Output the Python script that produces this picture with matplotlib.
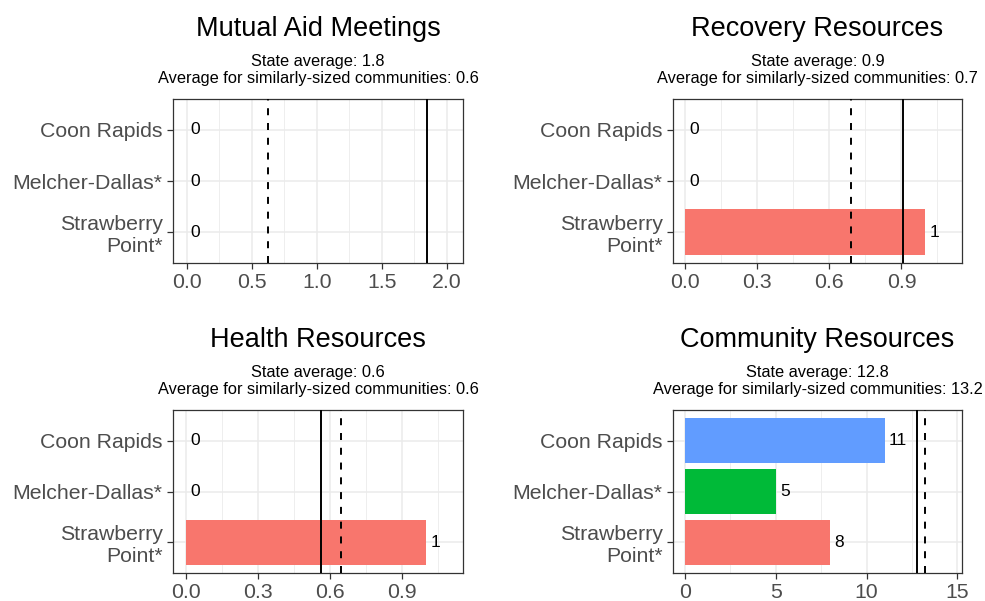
import matplotlib
matplotlib.use("Agg")
import matplotlib.pyplot as plt
from matplotlib.ticker import MultipleLocator

plt.rcParams['font.family'] = ['Liberation Sans', 'DejaVu Sans']

# Datos
communities = ['Strawberry\nPoint*', 'Melcher-Dallas*', 'Coon Rapids']
bar_colors = ['#F8766D', '#00BA38', '#619CFF']

titles = ['Mutual Aid Meetings', 'Recovery Resources', 'Health Resources', 'Community Resources']
values = [
    [0, 0, 0],
    [1, 0, 0],
    [1, 0, 0],
    [8, 5, 11],
]
state_avg = [1.846, 0.907, 0.563, 12.78]
similar_avg = [0.628, 0.688, 0.644, 13.24]
state_label = ['1.8', '0.9', '0.6', '12.8']
similar_label = ['0.6', '0.7', '0.6', '13.2']
x_limits = [(-0.105, 2.125), (-0.051, 1.152), (-0.054, 1.154), (-0.66, 15.26)]
x_major = [0.5, 0.3, 0.3, 5]

# Posiciones de los paneles en pixeles (left, top, right, bottom)
W, H = 985, 601
panels_px = [
    (173, 99, 463, 263),
    (673, 99, 962, 263),
    (173, 410, 463, 573),
    (673, 410, 962, 573),
]

fig = plt.figure(figsize=(W / 100, H / 100), dpi=100)
px2pt = 72 / 100

for i in range(4):
    l, t, r, b = panels_px[i]
    ax = fig.add_axes([l / W, 1 - b / H, (r - l) / W, (b - t) / H])
    ypos = [1, 2, 3]

    ax.barh(ypos, values[i], height=0.9, color=bar_colors, zorder=2)
    for y, v in zip(ypos, values[i]):
        ax.annotate(str(v), xy=(v, y), xytext=(3, 0), textcoords='offset points',
                    ha='left', va='center', fontsize=12.5, color='black', zorder=4)

    ax.axvline(state_avg[i], color='black', lw=1.4, zorder=3)
    ax.axvline(similar_avg[i], color='black', lw=1.4, linestyle=(0, (3.6, 4.0)), zorder=3)

    ax.set_xlim(*x_limits[i])
    ax.set_ylim(0.4, 3.6)
    ax.xaxis.set_major_locator(MultipleLocator(x_major[i]))
    ax.xaxis.set_minor_locator(MultipleLocator(x_major[i] / 2))
    if x_major[i] < 1:
        ax.xaxis.set_major_formatter(plt.FuncFormatter(lambda v, p: f'{v:.1f}'))
    ax.set_yticks(ypos)
    ax.set_yticklabels(communities)

    ax.grid(which='major', color='#EBEBEB', lw=1.1, zorder=0)
    ax.grid(which='minor', axis='x', color='#EBEBEB', lw=0.6, zorder=0)
    ax.set_axisbelow(True)
    ax.tick_params(axis='both', which='major', length=4, width=0.9, color='#333333',
                   labelcolor='#4D4D4D', labelsize=15.3, pad=3.5)
    ax.tick_params(axis='both', which='minor', length=0)
    for s in ax.spines.values():
        s.set_color('#333333')
        s.set_linewidth(0.9)

    ax.annotate(titles[i], xy=(0.5, 1), xycoords='axes fraction',
                xytext=(0, 63 * px2pt), textcoords='offset points',
                ha='center', va='baseline', fontsize=19.5, color='black')
    ax.annotate(f'State average: {state_label[i]}', xy=(0.5, 1), xycoords='axes fraction',
                xytext=(0, 33 * px2pt), textcoords='offset points',
                ha='center', va='baseline', fontsize=11.8, color='black')
    ax.annotate(f'Average for similarly-sized communities: {similar_label[i]}',
                xy=(0.5, 1), xycoords='axes fraction',
                xytext=(0, 16 * px2pt), textcoords='offset points',
                ha='center', va='baseline', fontsize=11.8, color='black')

fig.savefig('out.png', dpi=100)
